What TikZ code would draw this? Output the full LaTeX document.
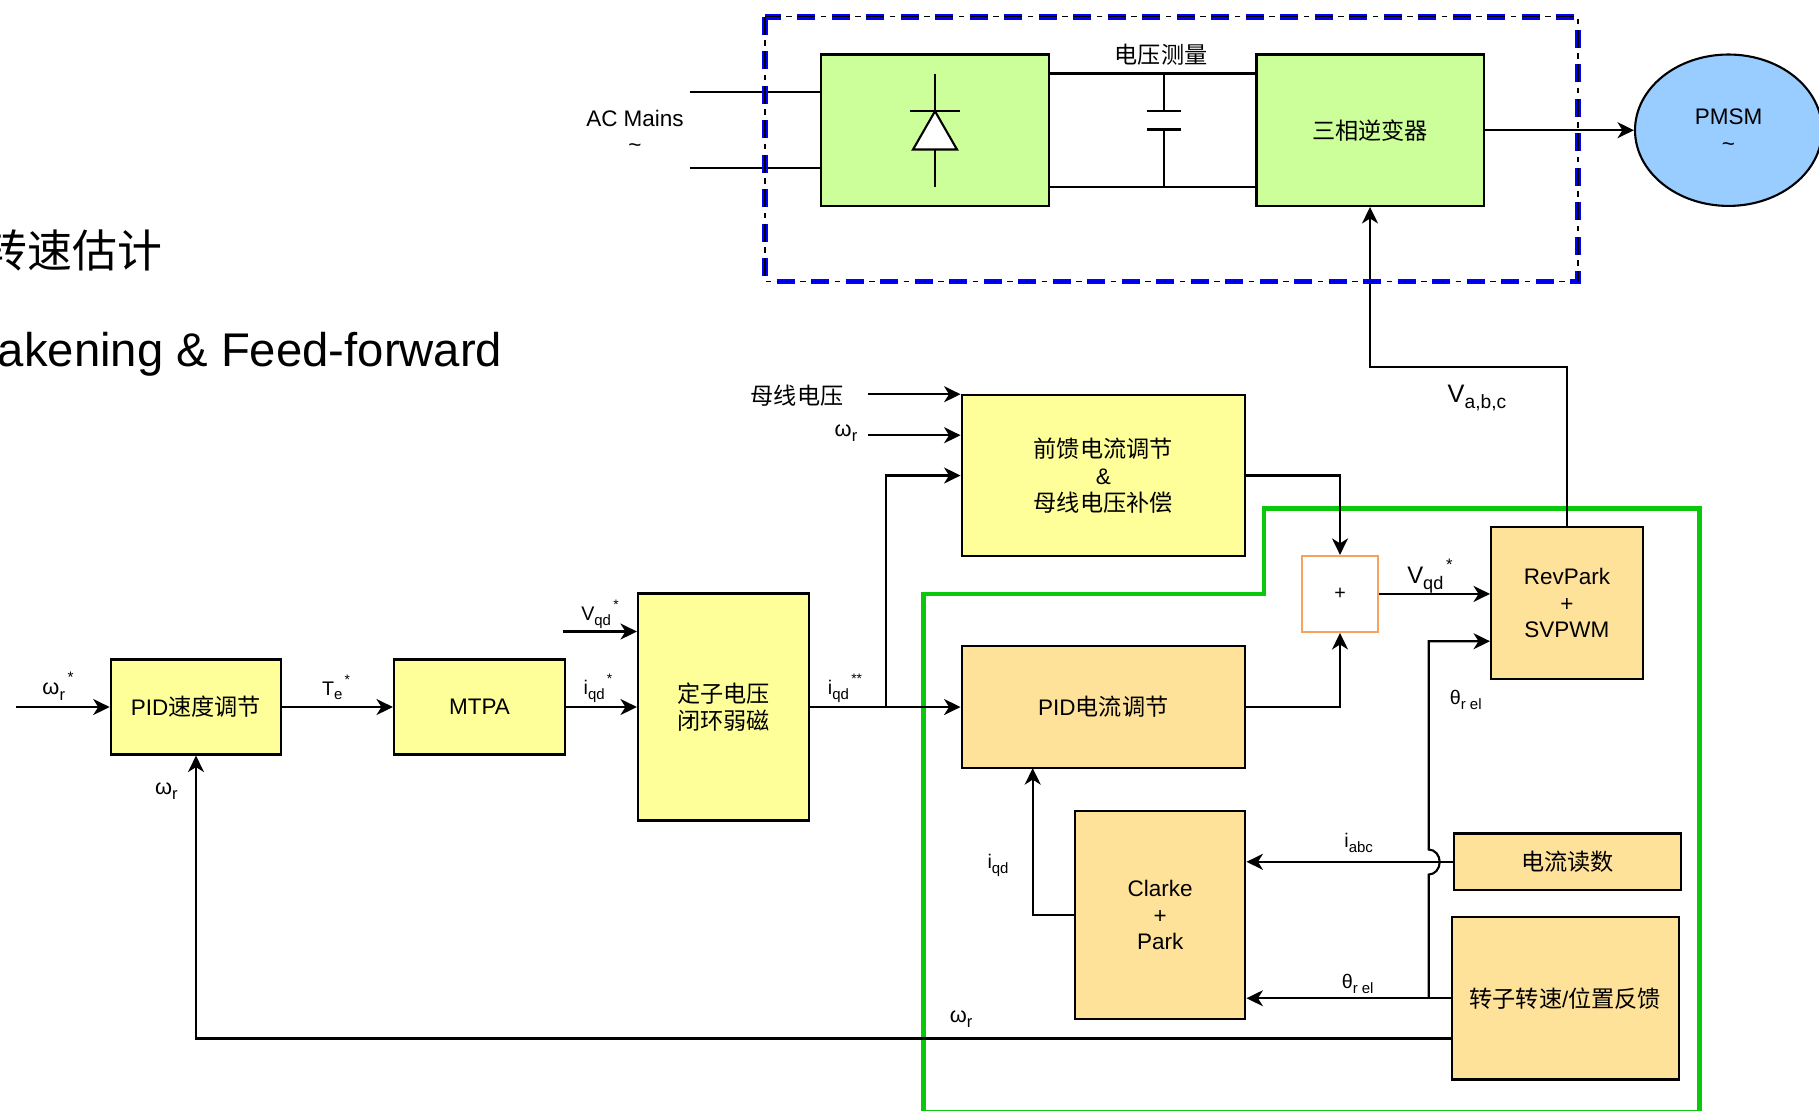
\documentclass[tikz,border=0pt]{standalone}
\usepackage{fontspec}
\setmainfont{Liberation Sans}
\newfontfamily\cjk[Scale=1.03]{Noto Sans CJK SC}
\usetikzlibrary{calc, positioning}
\usetikzlibrary{arrows.meta}
\usetikzlibrary{shapes.geometric}
\definecolor{rectgreen}{HTML}{CCFF99}
\definecolor{ctrlyellow}{HTML}{FFFF99}
\definecolor{ctrlorange}{HTML}{FFE299}
\definecolor{motorblue}{HTML}{99CCFF}
\definecolor{limegreen}{HTML}{0CC80C}
\definecolor{sumorange}{HTML}{F4A460}
\definecolor{busblue}{HTML}{0000FF}
\newcommand{\sbs}[1]{\raisebox{-0.45ex}{\scalebox{0.76}{#1}}}
\newcommand{\sps}[1]{\raisebox{1.05ex}{\scalebox{0.7}{\,#1}}}
\newcommand{\sgn}[3]{#1\sbs{#2}\sps{#3}}
\tikzset{
  blockbox/.style={draw, line width=0.6pt, align=center, inner sep=0pt, font=\fontsize{6.4}{7.6}\selectfont},
  powerblock/.style={blockbox, fill=rectgreen},
  yellowblock/.style={blockbox, fill=ctrlyellow},
  orangeblock/.style={blockbox, fill=ctrlorange},
  sig/.style={line width=0.6pt, -{Stealth[length=1.65mm, width=1.6mm, inset=0.5mm]}},
  wire/.style={line width=0.6pt},
  lbl/.style={inner sep=0pt, font=\fontsize{5.6}{6.6}\selectfont},
  lblbig/.style={inner sep=0pt, align=center, font=\fontsize{6.4}{7.6}\selectfont},
  bigtext/.style={inner sep=0pt, anchor=east}
}
\begin{document}
\begin{tikzpicture}
\useasboundingbox (0,0.012) rectangle (18.19,-11.088);
\clip (0,0.012) rectangle (18.19,-11.088);

\node[bigtext, font=\fontsize{12.4}{14}\selectfont\cjk] (title) at (1.63,-2.49) {转速估计};
\node[bigtext, font=\fontsize{13.45}{16}\selectfont] (subtitle) at (5.03,-3.53) {akening \& Feed-forward};

\draw[limegreen, line width=1.3pt, line join=miter] (9.235,-11.115) -- (9.235,-5.927) -- (12.64,-5.927) -- (12.64,-5.07) -- (16.993,-5.07) -- (16.993,-11.115) -- cycle;

\node[powerblock, minimum width=2.276cm, minimum height=1.514cm] (rect) at (9.35,-1.29) {};
\node[powerblock, minimum width=2.271cm, minimum height=1.514cm] (inv) at (13.70,-1.29) {\cjk 三相逆变器};
\node[blockbox, ellipse, fill=motorblue, minimum width=1.87cm, minimum height=1.514cm] (pmsm) at (17.285,-1.29) {PMSM\\\textasciitilde};

\node[yellowblock, minimum width=1.705cm, minimum height=0.95cm] (pidw) at (1.96,-7.058) {PID{\cjk 速度调节}};
\node[yellowblock, minimum width=1.71cm, minimum height=0.95cm] (mtpa) at (4.795,-7.058) {MTPA};
\node[yellowblock, minimum width=1.71cm, minimum height=2.27cm] (fw) at (7.235,-7.058) {\cjk 定子电压\\\cjk 闭环弱磁};
\node[yellowblock, minimum width=2.834cm, minimum height=1.605cm] (ff) at (11.033,-4.743) {\cjk 前馈电流调节\\\&\\\cjk 母线电压补偿};

\node[orangeblock, minimum width=2.834cm, minimum height=1.227cm] (pidi) at (11.033,-7.058) {PID{\cjk 电流调节}};
\node[orangeblock, minimum width=1.704cm, minimum height=2.077cm] (clarke) at (11.602,-9.139) {Clarke\\+\\Park};
\node[orangeblock, minimum width=1.517cm, minimum height=1.517cm] (revpark) at (15.669,-6.018) {RevPark\\+\\SVPWM};
\node[orangeblock, minimum width=2.272cm, minimum height=0.567cm] (reader) at (15.674,-8.606) {\cjk 电流读数};
\node[orangeblock, minimum width=2.273cm, minimum height=1.626cm] (rotor) at (15.653,-9.97) {{\cjk 转子转速}/{\cjk 位置反馈}};
\node[blockbox, draw=sumorange, fill=white, minimum width=0.766cm, minimum height=0.76cm, font=\fontsize{5.6}{6.6}\selectfont] (sum) at (13.40,-5.927) {+};

\coordinate (acA) at (6.895,-0.91);
\coordinate (acB) at (6.895,-1.667);
\coordinate (dcTop) at (11.64,-0.723);
\coordinate (dcBot) at (11.64,-1.857);
\coordinate (capA) at (11.64,-1.10);
\coordinate (capB) at (11.64,-1.283);
\coordinate (dioTop) at (9.35,-0.723);
\coordinate (dioBot) at (9.35,-1.857);
\coordinate (dioApex) at (9.35,-1.10);
\coordinate (dioBase) at (9.35,-1.483);
\coordinate (vbus) at (13.70,-3.657);
\coordinate (wIn) at (0.16,-7.058);
\coordinate (vqdIn) at (5.626,-6.303);
\coordinate (busIn) at (8.68,-3.93);
\coordinate (wFf) at (8.68,-4.34);
\coordinate (iqdTap) at (8.86,-7.058);
\coordinate (thetaUp) at (14.287,-6.40);
\coordinate (jumpLow) at (14.287,-8.733);
\coordinate (thetaTap) at (14.287,-9.97);
\coordinate (wTap) at (14.517,-10.373);
\coordinate (wLow) at (1.96,-10.373);
\coordinate (iqdUp) at (10.327,-7.669);

\draw[wire] (acA) -- (rect.west |- acA);
\draw[wire] (acB) -- (rect.west |- acB);
\draw[wire] (rect.east |- dcTop) -- (inv.west |- dcTop);
\draw[wire] (rect.east |- dcBot) -- (inv.west |- dcBot);
\draw[wire] (dcTop) -- (capA);
\draw[wire] (capB) -- (dcBot);
\draw[wire] ($(capA)+(-0.17,0)$) -- ($(capA)+(0.17,0)$);
\draw[wire] ($(capB)+(-0.17,0)$) -- ($(capB)+(0.17,0)$);

\draw[wire] (dioTop) -- (dioBot);
\draw[wire, fill=white] (dioApex) -- ($(dioBase)+(0.22,0)$) -- ($(dioBase)+(-0.22,0)$) -- cycle;
\draw[wire] ($(dioApex)+(-0.25,0)$) -- ($(dioApex)+(0.25,0)$);

\draw[sig] (inv.east) -- (pmsm.west);
\draw[sig] (revpark.north) |- (vbus) -- (inv.south);

\draw[busblue, line width=1.5pt, dash pattern=on 0.18cm off 0.165cm] (7.65,-0.157) rectangle (15.78,-2.80);
\draw[black, line width=0.3pt, dash pattern=on 0.18cm off 0.055cm on 0.055cm off 0.055cm] (7.65,-0.157) rectangle (15.78,-2.80);

\draw[sig] (wIn) -- (pidw.west);
\draw[sig] (pidw.east) -- (mtpa.west);
\draw[sig] (mtpa.east) -- (fw.west);
\draw[sig] (vqdIn) -- (fw.west |- vqdIn);
\draw[sig] (fw.east) -- (pidi.west);
\draw[sig] (iqdTap) |- (ff.west);
\draw[sig] (busIn) -- (ff.west |- busIn);
\draw[sig] (wFf) -- (ff.west |- wFf);
\draw[sig] (ff.east) -| (sum.north);
\draw[sig] (pidi.east) -| (sum.south);
\draw[sig] (sum.east) -- (revpark.west |- sum.east);
\draw[sig] (reader.west) -- (clarke.east |- reader.west);
\draw[sig] (rotor.west) -- (clarke.east |- rotor.west);
\draw[sig] (thetaTap) -- (jumpLow) arc[start angle=-90, end angle=90, x radius=0.11, y radius=0.125] |- (thetaUp) -- (revpark.west |- thetaUp);
\draw[sig] (clarke.west) -| (iqdUp);
\draw[sig] (wTap) -- (wLow) -- (pidw.south);

\node[lblbig] (acLbl) at (6.35,-1.30) {AC Mains\\\textasciitilde};
\node[lblbig, font=\fontsize{6.4}{7.4}\selectfont\cjk] (vmeas) at (11.61,-0.54) {电压测量};
\node[lblbig, font=\fontsize{7.2}{8.2}\selectfont] (vabc) at (14.77,-3.97) {V\sbs{a,b,c}};
\node[lblbig, font=\fontsize{6.4}{7.4}\selectfont\cjk] (busLbl) at (7.97,-3.944) {母线电压};
\node[lbl, font=\fontsize{6.2}{7.2}\selectfont] (wFfLbl) at (8.46,-4.32) {ω\sbs{r}};
\node[lbl, font=\fontsize{6.2}{7.2}\selectfont] (wInLbl) at (0.58,-6.85) {\sgn{ω}{r}{*}};
\node[lbl] (teLbl) at (3.36,-6.86) {\sgn{T}{e}{*}};
\node[lbl] (iqdLbl) at (5.98,-6.87) {\sgn{i}{qd}{*}};
\node[lbl] (vqdLbl) at (6.00,-6.13) {\sgn{V}{qd}{*}};
\node[lbl] (iqdsLbl) at (8.45,-6.87) {\sgn{i}{qd}{**}};
\node[lbl, font=\fontsize{6.2}{7.2}\selectfont] (wFbLbl) at (1.665,-7.90) {ω\sbs{r}};
\node[lblbig, font=\fontsize{6.8}{7.8}\selectfont] (vqdsLbl) at (14.30,-5.75) {\sgn{V}{qd}{*}};
\node[lbl] (thetaLbl) at (14.657,-6.99) {θ\sbs{r el}};
\node[lbl] (iqdFb) at (9.98,-8.64) {i\sbs{qd}};
\node[lbl] (iabcLbl) at (13.587,-8.417) {i\sbs{abc}};
\node[lbl] (thetaLow) at (13.577,-9.83) {θ\sbs{r el}};
\node[lbl, font=\fontsize{6.2}{7.2}\selectfont] (wLowLbl) at (9.61,-10.18) {ω\sbs{r}};
\end{tikzpicture}
\end{document}
